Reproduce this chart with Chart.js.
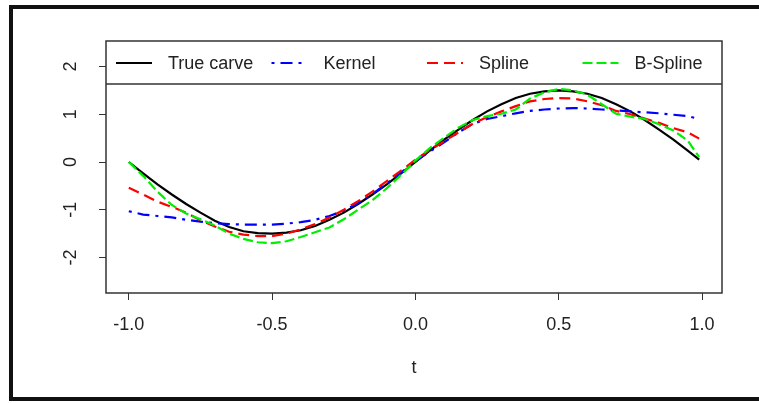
<!DOCTYPE html>
<html>
<head>
<meta charset="utf-8">
<style>
  html, body { margin: 0; padding: 0; background: #fff; overflow: hidden; }
  #wrap { position: relative; width: 759px; height: 403px; }
</style>
<script src="https://cdn.jsdelivr.net/npm/chart.js@4.4.1/dist/chart.umd.min.js"></script>
</head>
<body>
<div id="wrap"><canvas id="c" width="759" height="403"></canvas></div>
<script>
// ---- data ----
const tVals = [-1.00,-0.95,-0.90,-0.85,-0.80,-0.75,-0.70,-0.65,-0.60,-0.55,-0.50,-0.45,-0.40,-0.35,-0.30,-0.25,-0.20,-0.15,-0.10,-0.05,
               0.00,0.05,0.10,0.15,0.20,0.25,0.30,0.35,0.40,0.45,0.50,0.55,0.60,0.65,0.70,0.75,0.80,0.85,0.90,0.95,0.99];

const trueCarve = [0.00,-0.24,-0.47,-0.68,-0.88,-1.06,-1.23,-1.36,-1.45,-1.49,-1.50,-1.48,-1.43,-1.34,-1.21,-1.06,-0.88,-0.68,-0.47,-0.24,
                   0.00,0.24,0.47,0.68,0.88,1.06,1.21,1.34,1.43,1.48,1.50,1.48,1.43,1.34,1.21,1.06,0.88,0.68,0.47,0.24,0.05];

const kernel = [-1.03,-1.10,-1.13,-1.16,-1.21,-1.25,-1.28,-1.30,-1.31,-1.31,-1.31,-1.29,-1.26,-1.21,-1.13,-1.02,-0.86,-0.67,-0.45,-0.22,
                0.02,0.22,0.41,0.62,0.80,0.90,0.96,1.02,1.07,1.10,1.12,1.13,1.12,1.10,1.08,1.06,1.04,1.02,0.99,0.96,0.90];

const spline = [-0.54,-0.68,-0.83,-0.94,-1.06,-1.22,-1.35,-1.46,-1.52,-1.55,-1.55,-1.50,-1.41,-1.30,-1.16,-1.00,-0.82,-0.62,-0.40,-0.18,
                0.05,0.25,0.43,0.62,0.80,0.94,1.06,1.17,1.27,1.32,1.34,1.33,1.27,1.19,1.07,1.00,0.91,0.82,0.71,0.62,0.49];

const bSpline = [0.00,-0.29,-0.62,-0.90,-1.08,-1.20,-1.33,-1.50,-1.61,-1.68,-1.70,-1.66,-1.57,-1.47,-1.37,-1.20,-1.00,-0.80,-0.55,-0.27,
                 0.03,0.29,0.51,0.72,0.88,0.96,1.01,1.10,1.33,1.46,1.53,1.50,1.41,1.21,1.01,0.95,0.90,0.79,0.66,0.45,0.10];

const seriesNames = ["True carve", "Kernel", "Spline", "B-Spline"];
const xTickVals = [-1, -0.5, 0, 0.5, 1];
const xTickLabels = ["-1.0", "-0.5", "0.0", "0.5", "1.0"];
const yTickVals = [-2, -1, 0, 1, 2];
const yTickLabels = ["-2", "-1", "0", "1", "2"];
const xAxisTitle = "t";

// ---- chart ----
const FONT = "'Liberation Sans', Arial, sans-serif";
const TXT = '#222222';
const pts = arr => arr.map((v, i) => ({x: tVals[i], y: v}));

const styles = [
  {color: '#000000', dash: [],            width: 2.2, order: 4},
  {color: '#0000ff', dash: [3, 6, 12, 6], width: 2.2, order: 3},
  {color: '#ff0000', dash: [11, 6],       width: 2.2, order: 2},
  {color: '#00ee00', dash: [10, 4],       width: 2.2, order: 1}
];
const seriesData = [trueCarve, kernel, spline, bSpline];

const datasets = seriesData.map((arr, i) => ({
  label: seriesNames[i],
  data: pts(arr),
  borderColor: styles[i].color,
  backgroundColor: styles[i].color,
  borderDash: styles[i].dash,
  borderWidth: styles[i].width,
  pointRadius: 0,
  tension: 0,
  fill: false,
  order: styles[i].order
}));

const framePlugin = {
  id: 'frame',
  beforeDraw(chart) {
    const ctx = chart.ctx;
    ctx.save();
    ctx.fillStyle = '#fff';
    ctx.fillRect(0, 0, chart.width, chart.height);
    ctx.strokeStyle = '#111';
    ctx.lineWidth = 4;
    ctx.strokeRect(11, 7, 800, 392);
    ctx.restore();
  },
  afterDraw(chart) {
    const ctx = chart.ctx;
    const a = chart.chartArea;
    ctx.save();
    ctx.strokeStyle = '#333';
    ctx.lineWidth = 1.5;
    ctx.strokeRect(a.left, a.top, a.right - a.left, a.bottom - a.top);
    // legend box (inside the top of the plot)
    const legBottom = 84;
    ctx.fillStyle = '#fff';
    ctx.fillRect(a.left + 1, a.top + 1, a.right - a.left - 2, legBottom - a.top - 1);
    ctx.beginPath();
    ctx.moveTo(a.left, legBottom);
    ctx.lineTo(a.right, legBottom);
    ctx.stroke();
    const colW = 155.5;
    const yMid = 63;
    chart.data.datasets.forEach((ds, i) => {
      const x0 = a.left + 10 + i * colW;
      ctx.save();
      ctx.strokeStyle = ds.borderColor;
      ctx.lineWidth = ds.borderWidth;
      ctx.setLineDash(ds.borderDash);
      ctx.beginPath();
      ctx.moveTo(x0, yMid);
      ctx.lineTo(x0 + 36, yMid);
      ctx.stroke();
      ctx.restore();
      ctx.fillStyle = TXT;
      ctx.font = "18px " + FONT;
      ctx.textAlign = 'left';
      ctx.textBaseline = 'middle';
      ctx.fillText(ds.label, x0 + 52, yMid + 1);
    });
    ctx.restore();
  }
};

new Chart(document.getElementById('c'), {
  type: 'line',
  data: { datasets },
  options: {
    responsive: false,
    animation: false,
    devicePixelRatio: 1,
    layout: { padding: { left: 0, top: 41, right: 37, bottom: 0 } },
    plugins: { legend: { display: false }, tooltip: { enabled: false } },
    scales: {
      x: {
        type: 'linear',
        min: -1.0796, max: 1.0696,
        afterBuildTicks: ax => { ax.ticks = xTickVals.map(v => ({value: v})); },
        afterFit: ax => { ax.height = 110; },
        border: { display: false },
        grid: { drawOnChartArea: false, drawTicks: true, tickLength: 7, color: '#333', lineWidth: 1 },
        ticks: {
          autoSkip: false, maxRotation: 0, minRotation: 0, padding: 14,
          color: TXT, font: { family: FONT, size: 18 },
          callback: v => xTickLabels[xTickVals.indexOf(v)]
        },
        title: { display: true, text: xAxisTitle, color: TXT, font: { family: FONT, size: 18 }, padding: { top: 0, bottom: 24 } }
      },
      y: {
        type: 'linear',
        min: -2.743, max: 2.534,
        afterBuildTicks: ax => { ax.ticks = yTickVals.map(v => ({value: v})); },
        afterFit: ax => { ax.width = 106; },
        border: { display: false },
        grid: { drawOnChartArea: false, drawTicks: true, tickLength: 7, color: '#333', lineWidth: 1 },
        ticks: {
          autoSkip: false, minRotation: 90, maxRotation: 90, crossAlign: 'center', padding: 20,
          color: TXT, font: { family: FONT, size: 18 },
          callback: v => yTickLabels[yTickVals.indexOf(v)]
        }
      }
    }
  },
  plugins: [framePlugin]
});
</script>
</body>
</html>
